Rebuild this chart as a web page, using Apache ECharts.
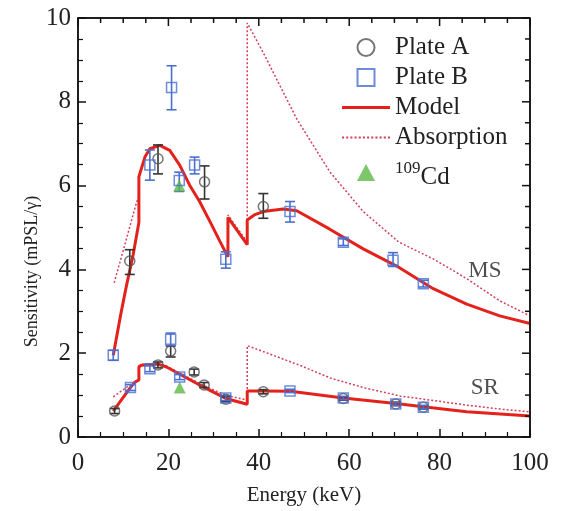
<!DOCTYPE html>
<html><head><meta charset="utf-8">
<script src="https://cdn.jsdelivr.net/npm/echarts@6/dist/echarts.min.js"></script>
<style>html,body{margin:0;padding:0;background:#fff}#c{width:562px;height:511px}</style>
</head><body><div id="c"></div>
<script>
// [energy keV, sensitivity, errLow, errHigh]
const plateA_MS = [[11.45,4.20,3.88,4.47],[17.7,6.64,6.28,6.97],[28.0,6.09,5.68,6.47],[41.0,5.50,5.22,5.81]];
const plateB_MS = [[7.8,1.95,1.83,2.07],[15.9,6.49,6.13,6.85],[20.7,8.34,7.81,8.86],[22.4,6.12,5.86,6.32],[25.8,6.49,6.28,6.68],[32.7,4.24,4.03,4.42],[46.9,5.38,5.13,5.62],[58.7,4.65,4.57,4.73],[69.7,4.22,4.07,4.40],[76.4,3.66,3.58,3.74]];
const plateA_SR = [[8.1,0.62,0.56,0.68],[17.7,1.72,1.65,1.79],[20.5,2.05,1.91,2.17],[25.7,1.55,1.48,1.62],[27.9,1.24,1.18,1.30],[32.7,0.90,0.84,0.96],[41.0,1.08,1.03,1.13],[58.7,0.92,0.88,0.96],[70.3,0.79,0.75,0.83],[76.4,0.71,0.67,0.75]];
const plateB_SR = [[11.6,1.18,1.11,1.25],[15.9,1.63,1.56,1.70],[20.5,2.33,2.18,2.48],[22.5,1.43,1.37,1.49],[32.7,0.93,0.87,0.99],[46.9,1.10,1.06,1.14],[58.7,0.93,0.89,0.97],[70.3,0.79,0.75,0.83],[76.4,0.71,0.67,0.75]];
const cd109 = [[22.4,6.0],[22.5,1.18]];
const modelMS = [[7.8,1.95],[9.5,2.95],[10.7,3.6],[12.2,4.35],[13.47,5.12],[13.47,6.21],[14.8,6.68],[15.9,6.88],[18.1,6.96],[20.3,6.84],[22.5,6.49],[24.7,6.01],[26.9,5.62],[29.2,5.14],[31.4,4.67],[33.17,4.30],[33.17,5.24],[37.44,4.59],[37.44,5.18],[39,5.3],[41.0,5.38],[45.4,5.44],[48.4,5.40],[55.7,4.96],[63.1,4.49],[70.5,4.08],[78.6,3.54],[86.0,3.17],[93.3,2.89],[100,2.71]];
const modelSR = [[7.8,0.62],[11.45,1.16],[12.6,1.31],[13.47,1.36],[13.47,1.67],[14.0,1.71],[17.7,1.74],[19.6,1.67],[26.9,1.24],[32.7,0.92],[37.44,0.78],[37.44,1.10],[41,1.10],[47,1.09],[58.7,0.93],[70.3,0.80],[76.4,0.72],[86,0.60],[100,0.50]];
const absMS = [[8.0,3.68],[10,4.45],[12.9,5.58],[13.47,5.75],[13.47,6.21],[14.8,6.68],[15.9,6.88],[18.1,6.96],[20.3,6.84],[22.5,6.49],[24.7,6.01],[26.9,5.62],[29.2,5.14],[31.4,4.67],[33.17,4.30],[33.17,5.30],[37.44,4.65],[37.44,9.88],[41.0,9.17],[48.4,7.59],[55.7,6.33],[63.1,5.38],[71,4.65],[78.6,4.25],[86,3.78],[93.3,3.25],[100,2.89]];
const absSR = [[7.8,0.96],[11.45,1.24],[13.47,1.38],[13.47,1.70],[14.0,1.73],[17.7,1.75],[19.6,1.69],[26.9,1.28],[29.2,1.16],[33.0,0.99],[37.44,0.88],[37.44,2.18],[40.2,2.07],[49.1,1.71],[56,1.40],[63.5,1.17],[71.2,0.98],[78,0.88],[86,0.76],[94,0.66],[100,0.60]];
const regionLabels = [['MS',90,3.96],['SR',90,1.16]];
const xTickValues = [0,5,10,15,20,25,30,35,40,45,50,55,60,65,70,75,80,85,90,95,100];
const yTickValues = [0,0.5,1,1.5,2,2.5,3,3.5,4,4.5,5,5.5,6,6.5,7,7.5,8,8.5,9,9.5,10];

const FONT = '"Liberation Serif","DejaVu Serif",serif';
const COL_A = '#555555', COL_B = '#4a6fd0', COL_RED = '#e3221c', COL_ABS = '#d3405a', COL_CD = '#5cb847';

let dotPath = 'path://';
for (let i = 0; i < 12; i++) dotPath += 'M' + (i * 4) + ',0h2v2h-2z ';

function errSeries(data, color) {
  return {
    type: 'custom', silent: true, z: 3,
    data: data,
    encode: {x: 0, y: [2, 3]},
    renderItem: function (params, api) {
      const x = api.value(0), lo = api.value(2), hi = api.value(3);
      const p1 = api.coord([x, lo]), p2 = api.coord([x, hi]);
      const w = 5;
      const st = {stroke: color, lineWidth: 1.6};
      return {type: 'group', children: [
        {type: 'line', shape: {x1: p1[0], y1: p1[1], x2: p2[0], y2: p2[1]}, style: st},
        {type: 'line', shape: {x1: p1[0]-w, y1: p1[1], x2: p1[0]+w, y2: p1[1]}, style: st},
        {type: 'line', shape: {x1: p2[0]-w, y1: p2[1], x2: p2[0]+w, y2: p2[1]}, style: st}
      ]};
    }
  };
}
const axisCommon = function () {
  return {
    axisLine: {show: true, onZero: false, lineStyle: {color: '#111', width: 1.5}},
    axisTick: {show: true, inside: true, length: 8, lineStyle: {color: '#111', width: 1.5}},
    minorTick: {show: true, splitNumber: 4, length: 5, lineStyle: {color: '#111', width: 1.2}},
    splitLine: {show: false}
  };
};
const chart = echarts.init(document.getElementById('c'));
chart.setOption({
  animation: false,
  backgroundColor: '#fff',
  grid: {left: 78, right: 32, top: 18, bottom: 71, show: true, borderColor: '#111', borderWidth: 1.5, backgroundColor: 'transparent'},
  legend: {
    orient: 'vertical', left: 337, top: 30, itemWidth: 48, itemHeight: 17, itemGap: 5,
    data: [
      {name: 'Plate A', icon: 'circle'},
      {name: 'Plate B', icon: 'path://M0,0H10V10H0Z'},
      {name: 'Model', icon: 'path://M0,0H48V3H0Z'},
      {name: 'Absorption', icon: dotPath},
      {name: 'Cd109', icon: 'path://M5,0L10,9.4L0,9.4Z'}
    ],
    textStyle: {fontFamily: FONT, fontSize: 25, color: '#222', lineHeight: 25,
      rich: {sup: {fontFamily: FONT, fontSize: 17, color: '#222', lineHeight: 17, verticalAlign: 'top'},
             n: {fontFamily: FONT, fontSize: 25, color: '#222', lineHeight: 25, padding: [10, 0, 0, 0]}}},
    formatter: function (n) { return n === 'Cd109' ? '{sup|109}{n|Cd}' : n; }
  },
  xAxis: Object.assign({type: 'value', min: 0, max: 100, interval: 20, name: 'Energy (keV)', nameLocation: 'middle', nameGap: 48,
      nameMoveOverlap: false,
      nameTextStyle: {fontFamily: FONT, fontSize: 21, color: '#222'},
      axisLabel: {fontFamily: FONT, fontSize: 25, color: '#222', margin: 14}}, axisCommon()),
  yAxis: Object.assign({type: 'value', min: 0, max: 10, interval: 2, name: 'Sensitivity (mPSL/γ)', nameLocation: 'middle', nameGap: 37,
      nameMoveOverlap: false,
      nameTextStyle: {fontFamily: FONT, fontSize: 18, color: '#222', padding: [0, 88, 0, 0]},
      axisLabel: {fontFamily: FONT, fontSize: 25, color: '#222', margin: 7}}, axisCommon()),
  series: [
    {name: 'Absorption', type: 'line', data: absMS, symbol: 'none', z: 1,
     lineStyle: {color: COL_ABS, width: 1.5, type: [2, 2]}, itemStyle: {color: COL_ABS}},
    {name: 'Absorption', type: 'line', data: absSR, symbol: 'none', z: 1,
     lineStyle: {color: COL_ABS, width: 1.5, type: [2, 2]}, itemStyle: {color: COL_ABS}},
    {name: 'Model', type: 'line', data: modelMS, symbol: 'none', z: 2,
     lineStyle: {color: COL_RED, width: 3}, itemStyle: {color: COL_RED}},
    {name: 'Model', type: 'line', data: modelSR, symbol: 'none', z: 2,
     lineStyle: {color: COL_RED, width: 3}, itemStyle: {color: COL_RED}},
    errSeries(plateA_MS, '#333'), errSeries(plateA_SR, '#333'),
    errSeries(plateB_MS, COL_B), errSeries(plateB_SR, COL_B),
    {name: 'Cd109', type: 'scatter', data: cd109, symbol: 'triangle', symbolSize: 12, z: 4,
     itemStyle: {color: COL_CD}},
    {name: 'Plate A', type: 'scatter', data: plateA_MS.concat(plateA_SR).map(d => [d[0], d[1]]), symbol: 'circle', symbolSize: 10, z: 5,
     itemStyle: {color: 'rgba(255,255,255,0)', borderColor: COL_A, borderWidth: 1.5}},
    {name: 'Plate B', type: 'scatter', data: plateB_MS.concat(plateB_SR).map(d => [d[0], d[1]]), symbol: 'rect', symbolSize: 10, z: 5,
     itemStyle: {color: 'rgba(255,255,255,0)', borderColor: COL_B, borderWidth: 1.5}},
    {type: 'scatter', silent: true, symbolSize: 0, z: 6,
     data: regionLabels.map(r => ({name: r[0], value: [r[1], r[2]]})),
     label: {show: true, position: 'inside', formatter: p => p.name, fontFamily: FONT, fontSize: 23, color: '#222'}}
  ]
});
// top/right frame edges and inward ticks, positioned through the chart's own scales
(function () {
  const toPx = v => chart.convertToPixel({gridIndex: 0}, v);
  const st = {stroke: '#111', lineWidth: 1.5};
  const els = [];
  const tl = toPx([0, 10]), tr = toPx([100, 10]), br = toPx([100, 0]);
  els.push({type: 'line', silent: true, z: 100, shape: {x1: tl[0], y1: tl[1], x2: tr[0], y2: tr[1]}, style: st});
  els.push({type: 'line', silent: true, z: 100, shape: {x1: tr[0], y1: tr[1], x2: br[0], y2: br[1]}, style: st});
  xTickValues.forEach(function (v) {
    const p = toPx([v, 10]); const len = v % 20 === 0 ? 8 : 5;
    els.push({type: 'line', silent: true, z: 100, shape: {x1: p[0], y1: p[1], x2: p[0], y2: p[1] + len}, style: st});
  });
  yTickValues.forEach(function (v) {
    const p = toPx([100, v]); const len = v % 2 === 0 ? 8 : 5;
    els.push({type: 'line', silent: true, z: 100, shape: {x1: p[0], y1: p[1], x2: p[0] - len, y2: p[1]}, style: st});
  });
  chart.setOption({graphic: {elements: els}});
})();
</script></body></html>
